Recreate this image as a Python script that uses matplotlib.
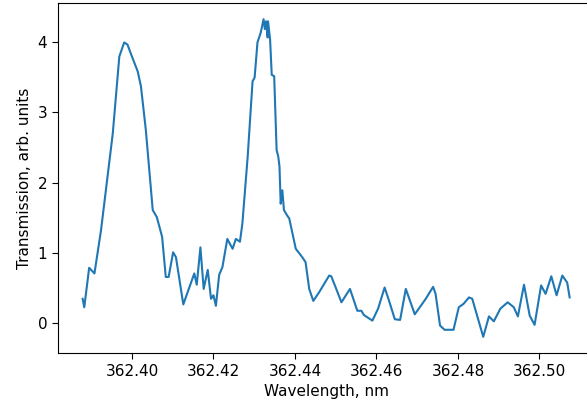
import numpy as np
import matplotlib
matplotlib.use('Agg')
import matplotlib.pyplot as plt

plt.rcParams['font.size'] = 11

# values
wavelength = [
    362.3879, 362.3883, 362.3895, 362.3908, 362.3924, 362.3953, 362.3969, 362.3981,
    362.3989, 362.3998, 362.4014, 362.4022, 362.4034, 362.4051, 362.4061, 362.4074,
    362.4083, 362.4090, 362.4101, 362.4108, 362.4126, 362.4153, 362.4159, 362.4168,
    362.4176, 362.4186, 362.4194, 362.4200, 362.4206, 362.4214, 362.4222, 362.4234,
    362.4247, 362.4255, 362.4265, 362.4271, 362.4284, 362.4296, 362.4301, 362.4308,
    362.4316, 362.4323, 362.4326, 362.4329, 362.4333, 362.4334, 362.4339, 362.4343,
    362.4349, 362.4355, 362.4359, 362.4362, 362.4365, 362.4369, 362.4373, 362.4380,
    362.4386, 362.4402, 362.4418, 362.4426, 362.4435, 362.4445, 362.4459, 362.4484,
    362.4489, 362.4500, 362.4514, 362.4535, 362.4553, 362.4563, 362.4569, 362.4590,
    362.4604, 362.4620, 362.4631, 362.4645, 362.4658, 362.4672, 362.4694, 362.4721,
    362.4739, 362.4745, 362.4756, 362.4767, 362.4789, 362.4802, 362.4814, 362.4827,
    362.4835, 362.4847, 362.4862, 362.4876, 362.4888, 362.4904, 362.4922, 362.4937,
    362.4947, 362.4962, 362.4976, 362.4988, 362.5004, 362.5015, 362.5029, 362.5042,
    362.5056, 362.5068, 362.5074,
]
transmission = [
    0.35, 0.23, 0.79, 0.71, 1.32, 2.70, 3.79, 3.99,
    3.96, 3.82, 3.58, 3.37, 2.75, 1.61, 1.51, 1.23,
    0.66, 0.66, 1.01, 0.94, 0.27, 0.71, 0.55, 1.08,
    0.49, 0.76, 0.35, 0.40, 0.25, 0.69, 0.80, 1.20,
    1.06, 1.20, 1.16, 1.42, 2.37, 3.44, 3.49, 3.99,
    4.13, 4.32, 4.18, 4.29, 4.06, 4.29, 4.03, 3.53,
    3.51, 2.46, 2.37, 2.23, 1.70, 1.89, 1.61, 1.54,
    1.49, 1.06, 0.94, 0.87, 0.49, 0.32, 0.44, 0.68,
    0.67, 0.51, 0.30, 0.49, 0.18, 0.18, 0.12, 0.04,
    0.21, 0.51, 0.32, 0.06, 0.05, 0.49, 0.13, 0.35,
    0.52, 0.42, -0.03, -0.09, -0.09, 0.23, 0.28, 0.37,
    0.35, 0.11, -0.19, 0.10, 0.03, 0.21, 0.30, 0.23,
    0.10, 0.55, 0.11, -0.02, 0.54, 0.42, 0.67, 0.40,
    0.68, 0.58, 0.37,
]
xticks = [362.40, 362.42, 362.44, 362.46, 362.48, 362.50]

fig = plt.figure(figsize=(5.87, 4.07), dpi=100)
ax = fig.add_axes([0.0993, 0.1334, 0.9126, 0.8585])

ax.plot(wavelength, transmission, color='#1f77b4', linewidth=1.5)

ax.set_xticks(xticks)
ax.set_xticklabels([f'{t:.2f}' for t in xticks])
ax.set_yticks([0, 1, 2, 3, 4])
ax.tick_params(length=4.5)
ax.set_xlabel('Wavelength, nm')
ax.set_ylabel('Transmission, arb. units')

plt.savefig('out.png', dpi=100)
